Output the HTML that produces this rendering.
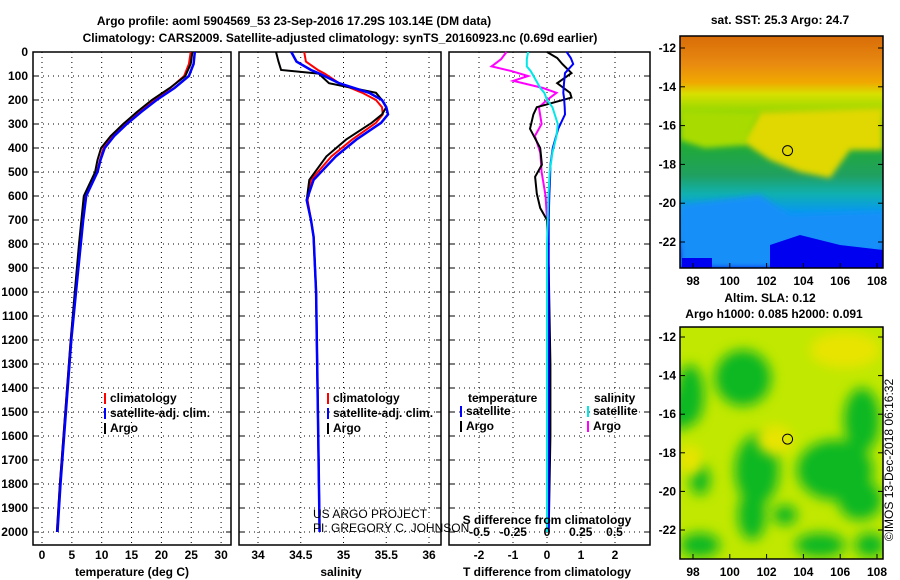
<!DOCTYPE html>
<html><head><meta charset="utf-8">
<style>
body{margin:0;background:#fff;}
svg{display:block;font-family:"Liberation Sans",sans-serif;}
text{font-weight:bold;font-size:12px;fill:#000;}
text.norm{font-weight:normal;}
</style></head>
<body>
<svg id="fig" width="900" height="580" viewBox="0 0 900 580">
<defs>
<linearGradient id="sstgrad" x1="0" y1="0" x2="0" y2="1">
<stop offset="0" stop-color="#d86c08"/><stop offset="0.12" stop-color="#e88a10"/>
<stop offset="0.2" stop-color="#f0a800"/><stop offset="0.25" stop-color="#d8e000"/>
<stop offset="0.32" stop-color="#98d800"/><stop offset="0.4" stop-color="#20b020"/>
<stop offset="0.6" stop-color="#20a060"/><stop offset="0.68" stop-color="#10b0b0"/>
<stop offset="0.76" stop-color="#0898f0"/><stop offset="0.88" stop-color="#1080ff"/>
<stop offset="0.94" stop-color="#0010f0"/><stop offset="1" stop-color="#0000e8"/>
</linearGradient>
<filter id="blur6" x="-30%" y="-30%" width="160%" height="160%"><feGaussianBlur stdDeviation="6"/></filter>
<filter id="blur3" x="-30%" y="-30%" width="160%" height="160%"><feGaussianBlur stdDeviation="3"/></filter>
</defs>
<g id="plots"></g>
</svg>
<script>
// ---- data ----
const depthTicks = [0,100,200,300,400,500,600,700,800,900,1000,1100,1200,1300,1400,1500,1600,1700,1800,1900,2000];
const tempTicks = [0,5,10,15,20,25,30];
const salTicks = [34,34.5,35,35.5,36];
const tdiffTicks = [-2,-1,0,1,2];
const sdiffTicks = [-0.5,-0.25,0,0.25,0.5];

const tDepth = [0,50,100,150,200,250,300,350,400,450,500,600,700,800,1000,1200,1400,1600,1800,2000];
const tempArgo = [25.2,24.9,24.0,21.4,18.4,15.9,13.6,11.5,9.9,9.3,8.9,7.0,6.6,6.2,5.5,4.8,4.2,3.6,3.0,2.5];
const tempClim = [24.9,24.6,23.8,21.5,18.8,16.3,14.0,11.9,10.3,9.7,9.2,7.3,6.8,6.4,5.6,4.8,4.2,3.6,3.0,2.5];
const tempSat  = [25.6,25.4,24.6,22.2,19.2,16.6,14.2,12.1,10.5,9.8,9.3,7.4,6.9,6.5,5.7,4.9,4.3,3.7,3.1,2.6];

const sDepth = [0,40,75,90,130,170,200,230,260,295,365,435,533,617,700,770,1000,1500,2000];
const salArgo = [34.21,34.24,34.27,34.71,34.83,35.38,35.45,35.5,35.45,35.33,35.03,34.8,34.6,34.57,34.62,34.65,34.68,34.7,34.72];
const salClim = [34.54,34.56,34.7,34.78,34.95,35.22,35.38,35.45,35.46,35.38,35.1,34.86,34.62,34.58,34.62,34.65,34.68,34.7,34.72];
const salSat  = [34.39,34.45,34.62,34.72,34.95,35.3,35.45,35.5,35.52,35.44,35.15,34.91,34.65,34.57,34.62,34.65,34.68,34.7,34.72];

const dDepth = [0,25,50,88,130,170,190,230,260,320,400,470,520,590,650,700,900,1300,1600,2000];
const tdArgo = [0,0.3,0.45,0.72,0.3,0.68,0.72,-0.3,-0.4,-0.5,-0.2,-0.15,-0.35,-0.3,-0.2,0,0.05,0.1,0.1,0.05];
const tdSat  = [0.58,0.7,0.77,0.53,0.5,0.48,0.5,0.52,0.53,0.33,0.17,0.1,0.09,0.07,0.06,0.05,0.05,0.05,0.05,0.05];
const sdDepth = [0,30,60,80,100,120,150,170,200,230,300,350,420,500,600,800,1200,2000];
const sdArgo = [-0.3,-0.34,-0.41,-0.26,-0.14,-0.25,-0.03,0.07,0,-0.06,-0.04,-0.09,-0.05,-0.04,-0.01,0.01,0.01,0];
const sdSat  = [-0.14,-0.15,-0.15,-0.12,-0.1,-0.08,-0.05,-0.02,0,0.04,0.08,0.07,0.04,0.02,0.01,0,0,0];

const lonTicks = [98,100,102,104,106,108];
const latTicks = [-12,-14,-16,-18,-20,-22];
const argoLon = 103.14, argoLat = -17.29;

// ---- helpers ----
const NS = 'http://www.w3.org/2000/svg';
const root = document.getElementById('plots');
function mk(tag, attrs, parent, txt){
  const e = document.createElementNS(NS, tag);
  for (const k in attrs) e.setAttribute(k, attrs[k]);
  if (txt !== undefined) e.textContent = txt;
  (parent || root).appendChild(e);
  return e;
}
const yD = d => 52 + d * 0.24;
const PY0 = 52, PY1 = 545;

function panel(name, x0, x1, xs, ticks, showY){
  const g = mk('g', {});
  
  
  for (const t of ticks){
    mk('line',{x1:xs(t),x2:xs(t),y1:PY0,y2:PY1,stroke:'#000','stroke-dasharray':'1,4','stroke-width':1},g);
  }
  for (const d of depthTicks){
    mk('line',{x1:x0,x2:x1,y1:yD(d),y2:yD(d),stroke:'#000','stroke-dasharray':'1,4','stroke-width':1},g);
    mk('line',{x1:x0,x2:x0+5,y1:yD(d),y2:yD(d),stroke:'#000'},g);
    mk('line',{x1:x1-5,x2:x1,y1:yD(d),y2:yD(d),stroke:'#000'},g);
    if (showY){
      const t = mk('text',{x:28,y:yD(d)+4,'text-anchor':'end'},g,String(d));
      
      
    }
  }
  mk('rect',{x:x0,y:PY0,width:x1-x0,height:PY1-PY0,fill:'none',stroke:'#000','stroke-width':1.5},g);
  return g;
}
function line(g, xs, vals, depths, color, name, w){
  const pts = vals.map((v,i)=>xs(v).toFixed(1)+','+yD(depths[i]).toFixed(1)).join(' ');
  const p = mk('polyline',{points:pts,fill:'none',stroke:color,'stroke-width':w||2},g);
  
  
}
function xlabels(g, xs, ticks, y){
  for (const t of ticks){
    const e = mk('text',{x:xs(t),y:y,'text-anchor':'middle'},g,String(t));
    
    
  }
}
function legend(g, x, y, items){
  items.forEach((it,i)=>{
    mk('rect',{x:x,y:y+i*15-9,width:2,height:11,fill:it[0]},g);
    const t = mk('text',{x:x+6,y:y+i*15},g,it[1]);
    
    
  });
}
function label(txt, x, y, name, extra){
  const t = mk('text', Object.assign({x:x,y:y,'text-anchor':'middle'}, extra||{}), root, txt);
  
  
  return t;
}

// titles
label('Argo profile: aoml 5904569_53 23-Sep-2016 17.29S 103.14E (DM data)', 294, 25, 'chart-title', {'font-size':14});
label('Climatology: CARS2009. Satellite-adjusted climatology: synTS_20160923.nc (0.69d earlier)', 340, 42, 'chart-subtitle', {'font-size':14});

// panel 1 temperature
const xT = v => 42 + v * 5.97;
const g1 = panel('temperature-panel', 33, 231, xT, tempTicks, true);
line(g1, xT, tempClim, tDepth, '#ff0000', 'temperature-climatology-line');
line(g1, xT, tempArgo, tDepth, '#000000', 'temperature-argo-line');
line(g1, xT, tempSat, tDepth, '#0000ff', 'temperature-satellite-line', 2.5);
xlabels(g1, xT, tempTicks, 559);
label('temperature (deg C)', 132, 576, 'x-axis-title-temperature');
legend(g1, 104, 402, [['#ff0000','climatology'],['#0000ff','satellite-adj. clim.'],['#000000','Argo']]);

// panel 2 salinity
const xS = v => 258 + (v - 34) * 85.5;
const g2 = panel('salinity-panel', 239, 441, xS, salTicks, false);
line(g2, xS, salClim, sDepth, '#ff0000', 'salinity-climatology-line');
line(g2, xS, salArgo, sDepth, '#000000', 'salinity-argo-line');
line(g2, xS, salSat, sDepth, '#0000ff', 'salinity-satellite-line', 2.5);
xlabels(g2, xS, salTicks, 559);
label('salinity', 341, 576, 'x-axis-title-salinity');
legend(g2, 327, 402, [['#ff0000','climatology'],['#0000ff','satellite-adj. clim.'],['#000000','Argo']]);
const c1 = mk('text',{x:313,y:518,'class':'norm'},g2,'US ARGO PROJECT');


const c2 = mk('text',{x:313,y:532,'class':'norm'},g2,'PI: GREGORY C. JOHNSON');



// panel 3 differences
const xTD = v => 547 + v * 34;
const xSD = v => 547 + v * 135;
const g3 = panel('difference-panel', 449, 650, xTD, tdiffTicks, false);
line(g3, xSD, sdArgo, sdDepth, '#ff00ff', 'salinity-diff-argo-line');
line(g3, xTD, tdArgo, dDepth, '#000000', 'temperature-diff-argo-line');
line(g3, xTD, tdSat, dDepth, '#0000ff', 'temperature-diff-satellite-line');
line(g3, xSD, sdSat, sdDepth, '#00e8e8', 'salinity-diff-satellite-line');
xlabels(g3, xTD, tdiffTicks, 559);
xlabels(g3, xSD, sdiffTicks, 536);
label('S difference from climatology', 547, 524, 'x-axis-title-sdiff');
label('T difference from climatology', 547, 576, 'x-axis-title-tdiff');
const lt = mk('text',{x:468,y:402},g3,'temperature');


const ls = mk('text',{x:594,y:402},g3,'salinity');


legend(g3, 460, 415, [['#0000ff','satellite'],['#000000','Argo']]);
legend(g3, 587, 415, [['#00e8e8','satellite'],['#ff00ff','Argo']]);

// maps
function map(name, y0, y1, latTop, latBot, fillFn){
  const x0 = 680, x1 = 883;
  const lonS = v => 693 + (v - 98) * 18.4;
  const latS = v => latTop + (-12 - v) * (latBot - latTop) / 10;
  const g = mk('g', {});
  
  
  const cp = mk('clipPath',{id:name+'-clip'},g);
  mk('rect',{x:x0,y:y0,width:x1-x0,height:y1-y0},cp);
  const inner = mk('g',{'clip-path':'url(#'+name+'-clip)'},g);
  fillFn(inner, x0, y0, x1, y1, lonS, latS);
  const m = mk('circle',{cx:lonS(argoLon),cy:latS(argoLat),r:5,fill:'none',stroke:'#000','stroke-width':1},g);
  
  
  mk('rect',{x:x0,y:y0,width:x1-x0,height:y1-y0,fill:'none',stroke:'#000','stroke-width':1.5},g);
  for (const t of lonTicks){
    mk('line',{x1:lonS(t),x2:lonS(t),y1:y1,y2:y1-5,stroke:'#000'},g);
    const e = mk('text',{x:lonS(t),y:y1+17,'text-anchor':'middle'},g,String(t));
    
    
  }
  for (const t of latTicks){
    mk('line',{x1:x0,x2:x0+5,y1:latS(t),y2:latS(t),stroke:'#000'},g);
    mk('line',{x1:x1,x2:x1-5,y1:latS(t),y2:latS(t),stroke:'#000'},g);
    const e = mk('text',{x:x0-4,y:latS(t)+4,'text-anchor':'end'},g,String(t));
    
    
  }
}
map('sst-map', 36, 268, 48, 242, (g,x0,y0,x1,y1)=>{
  mk('rect',{x:x0,y:y0,width:x1-x0,height:y1-y0,fill:'url(#sstgrad)'},g);
  // yellow tongue middle-right
  mk('path',{d:'M760,112 L883,108 L883,150 L850,150 L830,178 L800,172 L770,160 L740,140 Z',fill:'#e0d800',filter:'url(#blur3)'},g);
  mk('path',{d:'M680,110 L760,112 L745,145 L705,148 L680,140 Z',fill:'#a8dc00',filter:'url(#blur3)'},g);
  mk('path',{d:'M680,205 L760,195 L790,215 L883,212 L883,268 L680,268 Z',fill:'#1890f8',filter:'url(#blur3)'},g);
  mk('path',{d:'M770,245 L800,235 L840,245 L883,250 L883,268 L770,268 Z',fill:'#0000f0'},g);
  mk('rect',{x:682,y:258,width:30,height:10,fill:'#0000f0'},g);
});
label('sat. SST: 25.3 Argo: 24.7', 780, 24, 'sst-map-title');
map('sla-map', 327, 559, 337, 530, (g,x0,y0,x1,y1)=>{
  mk('rect',{x:x0,y:y0,width:x1-x0,height:y1-y0,fill:'#c0e800'},g);
  const gr = mk('g',{filter:'url(#blur6)',fill:'#10b820'},g);
  const blobs = [[743,378,28,28],[690,395,14,30],[680,410,12,20],[757,470,22,35],[752,515,14,25],[835,470,38,30],[860,500,22,20],[862,420,18,32],[700,545,20,12],[820,545,25,12],[870,545,15,12],[700,480,10,15],[785,515,12,10]];
  blobs.forEach(b=>mk('ellipse',{cx:b[0],cy:b[1],rx:b[2],ry:b[3]},gr));
  const gy = mk('g',{filter:'url(#blur6)',fill:'#e8e400'},g);
  [[845,350,35,18],[690,460,12,15],[775,440,18,15]].forEach(b=>mk('ellipse',{cx:b[0],cy:b[1],rx:b[2],ry:b[3]},gy));
});
label('Altim. SLA: 0.12', 770, 302, 'sla-map-title');
label('Argo h1000: 0.085 h2000: 0.091', 774, 318, 'sla-map-subtitle');
label('©IMOS 13-Dec-2018 06:16:32', 893, 460, 'timestamp', {transform:'rotate(-90 893 460)','class':'norm'});
</script>
</body></html>
